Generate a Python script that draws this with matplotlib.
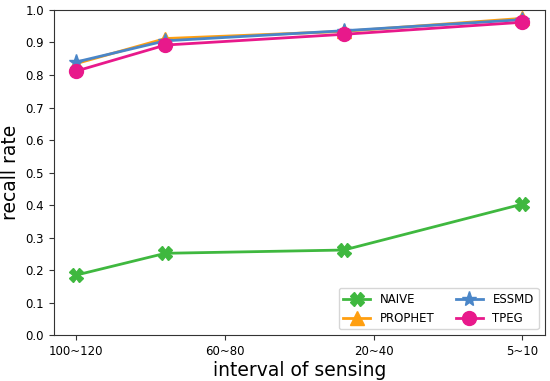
import matplotlib
matplotlib.use("Agg")
import matplotlib.pyplot as plt

x_pos = [0, 0.6, 1.8, 3]
tick_pos = [0, 1, 2, 3]
tick_labels = ["100~120", "60~80", "20~40", "5~10"]

naive = [0.185, 0.252, 0.262, 0.403]
prophet = [0.835, 0.912, 0.934, 0.974]
essmd = [0.840, 0.905, 0.936, 0.970]
tpeg = [0.812, 0.892, 0.925, 0.962]

fig, ax = plt.subplots(figsize=(5.5, 3.81), dpi=100)
ax.plot(x_pos, naive, color="#3fb83f", marker="X", markersize=10, linewidth=2, label="NAIVE")
ax.plot(x_pos, prophet, color="#ff9f10", marker="^", markersize=10, linewidth=2, label="PROPHET")
ax.plot(x_pos, essmd, color="#4a86c8", marker="*", markersize=11, linewidth=2, label="ESSMD")
ax.plot(x_pos, tpeg, color="#e8198b", marker="o", markersize=10, linewidth=2, label="TPEG")

ax.set_xticks(tick_pos)
ax.set_xticklabels(tick_labels)
ax.set_ylim(0, 1.0)
ax.set_yticks([i / 10 for i in range(11)])
ax.set_xlabel("interval of sensing", fontsize=13.5, labelpad=2)
ax.set_ylabel("recall rate", fontsize=13.5)
ax.tick_params(labelsize=8.5, color="#333333")
for s in ax.spines.values():
    s.set_color("#333333")
ax.legend(loc="lower right", ncol=2, fontsize=8.5, handlelength=2.3, columnspacing=1.8)
fig.subplots_adjust(left=0.098, right=0.99, top=0.974, bottom=0.12)
fig.savefig("out.png", dpi=100)
